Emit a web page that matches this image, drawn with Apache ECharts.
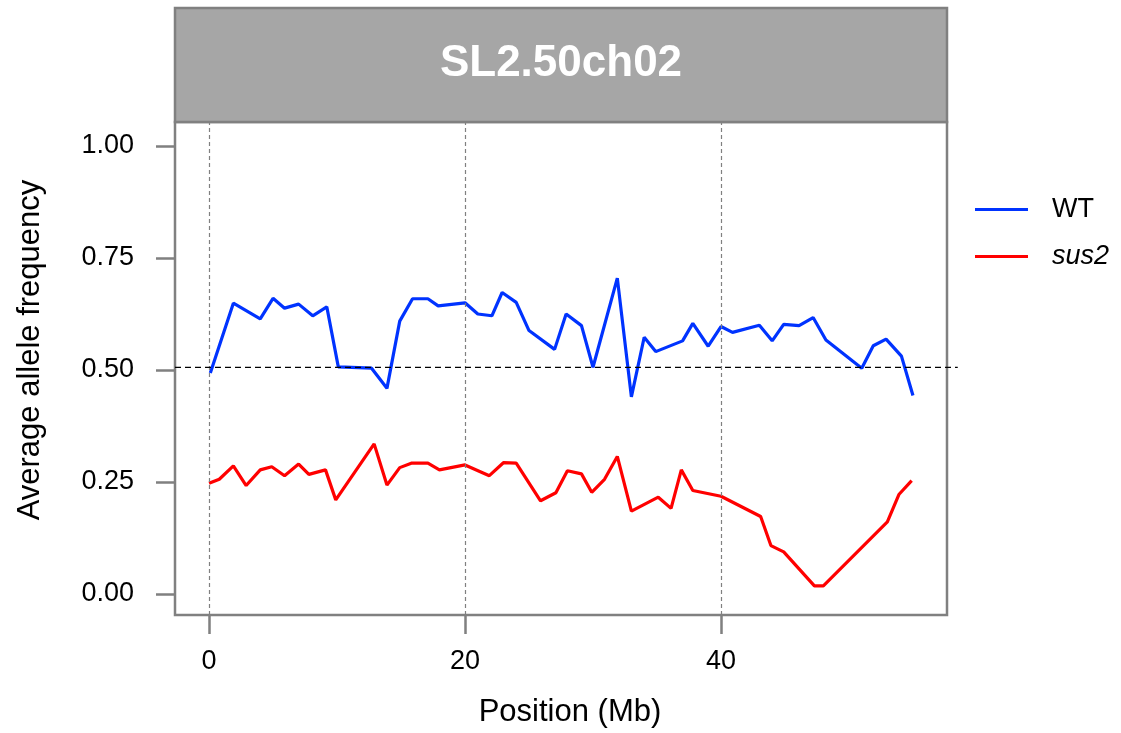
<!DOCTYPE html>
<html>
<head>
<meta charset="utf-8">
<script src="https://cdn.jsdelivr.net/npm/echarts@6/dist/echarts.min.js"></script>
<style>
  html, body { margin: 0; padding: 0; background: #fff; }
  #main { width: 1121px; height: 733px; }
</style>
</head>
<body>
<div id="main"></div>
<script>
// WT series (position Mb, average allele frequency)
var wtPos = [0.1, 1.9, 4, 5, 5.9, 7, 8.1, 9.2, 10.1, 12.7, 13.9, 14.9, 15.9, 17.1, 17.9, 20, 21, 22.1, 22.9, 24, 25, 27, 27.9, 29.1, 30, 31.9, 33, 34, 34.9, 37, 37.8, 39, 40, 40.9, 43, 44, 44.9, 46.1, 47.2, 48.2, 51, 51.9, 52.9, 54.1, 55];
var wtFreq = [0.493, 0.649, 0.614, 0.660, 0.638, 0.647, 0.621, 0.641, 0.507, 0.504, 0.459, 0.609, 0.659, 0.659, 0.643, 0.650, 0.625, 0.621, 0.673, 0.651, 0.588, 0.546, 0.625, 0.599, 0.506, 0.705, 0.440, 0.573, 0.541, 0.565, 0.604, 0.553, 0.597, 0.584, 0.600, 0.565, 0.602, 0.599, 0.617, 0.567, 0.504, 0.554, 0.569, 0.531, 0.443];

// sus2 series
var susPos = [0, 0.8, 1.9, 2.9, 4, 4.9, 5.9, 7, 7.8, 9.1, 9.9, 12.9, 13.9, 14.9, 15.8, 17.1, 18, 20, 21.9, 23, 24, 25.9, 27.1, 28, 29.1, 29.9, 30.9, 31.9, 33, 35.1, 36.1, 36.9, 37.8, 40, 43.1, 43.9, 44.9, 47.3, 48, 53, 53.9, 54.9];
var susFreq = [0.247, 0.256, 0.286, 0.242, 0.277, 0.284, 0.264, 0.290, 0.267, 0.277, 0.210, 0.335, 0.243, 0.282, 0.292, 0.292, 0.277, 0.288, 0.264, 0.293, 0.292, 0.208, 0.226, 0.275, 0.268, 0.227, 0.256, 0.307, 0.185, 0.216, 0.191, 0.277, 0.231, 0.218, 0.173, 0.108, 0.094, 0.018, 0.018, 0.161, 0.222, 0.253];

var xTicks = [0, 20, 40];
var yTicks = [0, 0.25, 0.5, 0.75, 1];
var refLine = 0.506;
var refLineEnd = 58.5; // dashed line runs a bit past the panel edge
var panelTitle = "SL2.50ch02";
var xTitle = "Position (Mb)";
var yTitle = "Average allele frequency";

var xMin = -2.66, xMax = 57.66;
var yMin = -0.047, yMax = 1.0536;

function pairs(xs, ys) {
  return xs.map(function (x, i) { return [x, ys[i]]; });
}

var font = "Liberation Sans, Arial, sans-serif";
var chart = echarts.init(document.getElementById("main"));

// strip header + axis titles
function decorations(extra) {
  return [
    {
      type: "rect",
      shape: { x: 175, y: 8, width: 772, height: 114 },
      style: { fill: "#A6A6A6", stroke: "#808080", lineWidth: 2.5 }
    },
    {
      type: "text",
      x: 561, y: 64,
      style: {
        text: panelTitle, fill: "#fff", font: "bold 44px " + font,
        align: "center", verticalAlign: "middle"
      }
    },
    {
      type: "text",
      x: 570, y: 712,
      style: {
        text: xTitle, fill: "#000", font: "31px " + font,
        align: "center", verticalAlign: "middle"
      }
    },
    {
      type: "text",
      x: 30, y: 350, rotation: Math.PI / 2,
      style: {
        text: yTitle, fill: "#000", font: "31px " + font,
        align: "center", verticalAlign: "middle"
      }
    }
  ].concat(extra || []);
}

chart.setOption({
  animation: false,
  textStyle: { fontFamily: font },
  grid: {
    left: 175, top: 122, width: 772, height: 493,
    show: true, borderColor: "#808080", borderWidth: 2.5,
    backgroundColor: "#fff"
  },
  graphic: decorations(),
  legend: {
    orient: "vertical",
    left: 975, top: 196, padding: 0,
    icon: "rect",
    itemWidth: 53, itemHeight: 3, itemGap: 20,
    data: ["WT", "sus2"],
    formatter: function (name) {
      return name === "sus2" ? "{i|sus2}" : name;
    },
    textStyle: {
      fontSize: 27, color: "#000", padding: [0, 0, 0, 19],
      rich: { i: { fontStyle: "italic", fontSize: 27, fontFamily: font, color: "#000" } }
    }
  },
  xAxis: {
    type: "value",
    min: xMin, max: xMax,
    axisLine: { show: false, onZero: false },
    axisTick: { show: true, length: 19, lineStyle: { color: "#808080", width: 2.5 }, customValues: xTicks },
    axisLabel: { fontSize: 27, color: "#000", margin: 33, customValues: xTicks },
    splitLine: { show: false }
  },
  yAxis: {
    type: "value",
    min: yMin, max: yMax,
    axisLine: { show: false, onZero: false },
    axisTick: { show: true, length: 19, lineStyle: { color: "#808080", width: 2.5 }, customValues: yTicks },
    axisLabel: {
      fontSize: 27, color: "#000", margin: 41, customValues: yTicks,
      formatter: function (v) { return v.toFixed(2); }
    },
    splitLine: { show: false }
  },
  series: [
    {
      name: "WT",
      type: "line",
      data: pairs(wtPos, wtFreq),
      symbol: "none",
      lineStyle: { color: "#0033FF", width: 3.2 },
      itemStyle: { color: "#0033FF" },
      markLine: {
        silent: true, symbol: "none",
        label: { show: false },
        lineStyle: { color: "#808080", type: [4, 3], width: 1.2 },
        data: xTicks.map(function (v) { return { xAxis: v }; })
      },
      z: 3
    },
    {
      name: "sus2",
      type: "line",
      data: pairs(susPos, susFreq),
      symbol: "none",
      lineStyle: { color: "#FF0000", width: 3.2 },
      itemStyle: { color: "#FF0000" }
    }
  ]
});

// horizontal reference line, placed through the chart's own scale
var p0 = chart.convertToPixel({ gridIndex: 0 }, [xMin, refLine]);
var p1 = chart.convertToPixel({ gridIndex: 0 }, [refLineEnd, refLine]);
chart.setOption({
  graphic: decorations([
    {
      type: "line",
      z: 10,
      shape: { x1: p0[0], y1: p0[1], x2: p1[0], y2: p1[1] },
      style: { stroke: "#000", lineWidth: 1.3, lineDash: [6, 4] }
    }
  ])
});
</script>
</body>
</html>
